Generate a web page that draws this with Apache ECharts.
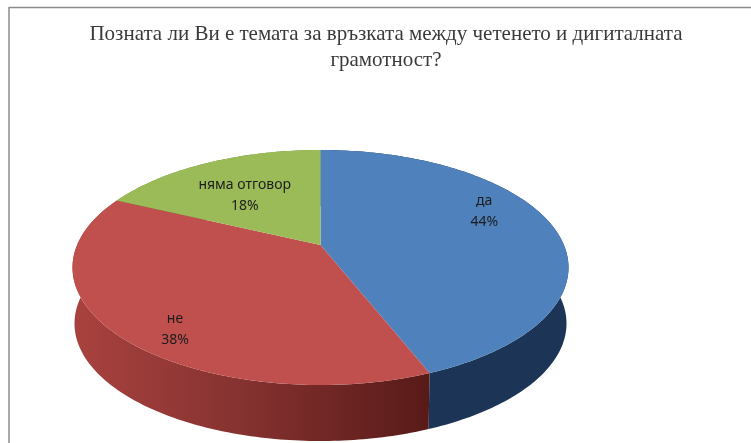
<!DOCTYPE html>
<html>
<head>
<meta charset="utf-8">
<style>
html,body{margin:0;padding:0;background:#fff}
#chart{width:751px;height:443px;filter:blur(0.7px)}
</style>
<script src="https://cdn.jsdelivr.net/npm/echarts@6/dist/echarts.min.js"></script>
</head>
<body>
<div id="chart"></div>
<script>
const categories = ['да', 'не', 'няма отговор'];
const values = [44, 38, 18];
const topColors = ['#4f81bd', '#c0504d', '#9bbb59'];
const titleText = 'Позната ли Ви е темата за връзката между четенето и дигиталната\nграмотност?';

// Perspective projection of the pie disc
const CX = 320.5, CY = 245, C = 243.4, B = 113.2, K = -0.1915, DEPTH = 56, SHRINK = 0.992;
const labelAnchor = [
  {f: 0.68, dx: 5, dy: -19},
  {f: 0.60, dx: -30, dy: 34},
  {f: 0.66, dx: 2, dy: 8}
];
const total = values.reduce((a, b) => a + b, 0);
const starts = values.map((_, i) => values.slice(0, i).reduce((a, b) => a + b, 0));

function project(theta, f) {
  const u = Math.sin(theta) * f, v = -Math.cos(theta) * f, d = 1 + K * v;
  return [CX + C * u / d, CY + B * v / d];
}
function arc(a0, a1) {
  const n = Math.max(4, Math.ceil((a1 - a0) * 60)), pts = [];
  for (let i = 0; i <= n; i++) pts.push(project(a0 + (a1 - a0) * i / n, 1));
  return pts;
}
function angles(i) {
  return [starts[i] / total * Math.PI * 2, (starts[i] + values[i]) / total * Math.PI * 2];
}
const sideFills = [
  '#1c3556',
  new echarts.graphic.LinearGradient(0, 0, 1, 0, [
    {offset: 0, color: '#a9423f'},
    {offset: 0.45, color: '#873331'},
    {offset: 1, color: '#581a18'}
  ]),
  '#6f8a3c'
];
function renderSide(params) {
  const i = params.dataIndex, [a0, a1] = angles(i);
  const t = arc(a0, a1);
  const b = t.map(p => [CX + (p[0] - CX) * SHRINK, p[1] + DEPTH]).reverse();
  return {type: 'polygon', shape: {points: t.concat(b)}, style: {fill: sideFills[i]}};
}
function renderTop(params) {
  const i = params.dataIndex, [a0, a1] = angles(i);
  const mid = (a0 + a1) / 2, la = labelAnchor[i], p = project(mid, la.f);
  return {
    type: 'group',
    children: [
      {type: 'polygon', shape: {points: [[CX, CY]].concat(arc(a0, a1))}, style: {fill: topColors[i]}},
      {type: 'text', z2: 10, style: {
        text: categories[i] + '\n' + Math.round(values[i] / total * 100) + '%',
        x: p[0] + la.dx, y: p[1] + la.dy, align: 'center', verticalAlign: 'middle',
        fill: '#1d1d1d', lineHeight: 21,
        font: '14px "Noto Sans", "Liberation Sans", sans-serif'
      }}
    ]
  };
}
const chart = echarts.init(document.getElementById('chart'), null, {renderer: 'canvas'});
chart.setOption({
  animation: false,
  backgroundColor: '#ffffff',
  title: {
    text: titleText, left: 381, top: 16, textAlign: 'center',
    textStyle: {fontFamily: '"Liberation Serif", serif', fontWeight: 'normal', fontSize: 21, color: '#3a3a3a', lineHeight: 26}
  },
  graphic: [
    {type: 'line', shape: {x1: 9, y1: 7.5, x2: 751, y2: 7.5}, style: {stroke: '#8c8c8c', lineWidth: 1.5}},
    {type: 'line', shape: {x1: 9, y1: 7, x2: 9, y2: 443}, style: {stroke: '#8c8c8c', lineWidth: 1.5}}
  ],
  series: [
    {type: 'custom', coordinateSystem: 'none', renderItem: renderSide, data: values, z: 1, silent: true},
    {type: 'custom', coordinateSystem: 'none', renderItem: renderTop, data: values, z: 2, silent: true}
  ]
});
</script>
</body>
</html>
